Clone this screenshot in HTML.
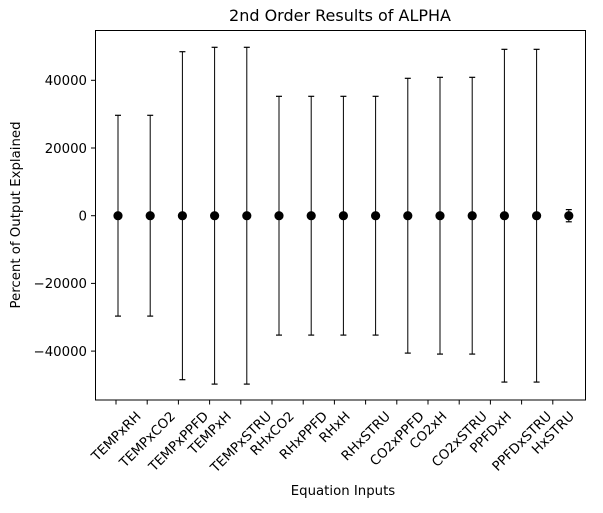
<!DOCTYPE html>
<html><head><meta charset="utf-8"><style>
body{margin:0;background:#fff;}
svg text{font-family:"DejaVu Sans","Liberation Sans",sans-serif;fill:#000;}
</style></head><body>
<svg id="chart" width="603" height="508">
<text x="340" y="21" font-size="16" text-anchor="middle">2nd Order Results of ALPHA</text>
<text x="343" y="495" font-size="13.3" text-anchor="middle">Equation Inputs</text>
<text transform="translate(20,215) rotate(-90)" font-size="13.3" text-anchor="middle">Percent of Output Explained</text>
<g id="plot"></g>
<rect x="95.5" y="30.5" width="490" height="369.5" fill="none" stroke="#000" stroke-width="1"/>
</svg>
<script>
const categories=["TEMPxRH","TEMPxCO2","TEMPxPPFD","TEMPxH","TEMPxSTRU","RHxCO2","RHxPPFD","RHxH","RHxSTRU","CO2xPPFD","CO2xH","CO2xSTRU","PPFDxH","PPFDxSTRU","HxSTRU"];
const means=[0,0,0,0,0,0,0,0,0,0,0,0,0,0,0];
const errors=[29660,29660,48450,49750,49750,35270,35270,35270,35270,40590,40880,40880,49150,49150,1800];
const yTicks=[-40000,-20000,0,20000,40000];
const NS="http://www.w3.org/2000/svg";
const g=document.getElementById('plot');
function xTick(i){return 116+31.2*i;}
function xPoint(i){return 118+32.2*i;}
function y(v){return 215.7-v*67.7/20000;}
function mk(t,a){const e=document.createElementNS(NS,t);for(const k in a)e.setAttribute(k,a[k]);g.appendChild(e);return e;}
yTicks.forEach(v=>{
  const l=mk('line',{x1:91,x2:95.5,y1:y(v),y2:y(v),stroke:'#000'});
  
  
  const t=mk('text',{x:87,y:y(v)+4.8,'font-size':13.3,'text-anchor':'end'});
  t.textContent=v<0?'\u2212'+Math.abs(v):String(v);
  
  
});
categories.forEach((c,i)=>{
  const tx=xTick(i);
  const l=mk('line',{x1:tx,x2:tx,y1:400,y2:404.5,stroke:'#000'});
  
  
  const t=mk('text',{'font-size':13.3,'text-anchor':'middle'});
  t.textContent=c;
  
  
  const L=t.getComputedTextLength();
  const half=(L*0.7071+13.3*0.7071)/2;
  const cy=409+half;
  t.setAttribute('transform',`translate(${tx},${cy}) rotate(-45)`);
  t.setAttribute('y',4.7);
  const px=xPoint(i);
  const top=y(means[i]+errors[i]),bot=y(means[i]-errors[i]);
  const eb=mk('line',{x1:px,x2:px,y1:top,y2:bot,stroke:'#000','stroke-width':1});
  
  
  [top,bot].forEach(yy=>{
    const cap=mk('line',{x1:px-3,x2:px+3,y1:yy,y2:yy,stroke:'#000','stroke-width':1.2});
    
    
  });
  const d=mk('circle',{cx:px,cy:y(means[i]),r:4.6,fill:'#000'});
  
  
});
</script>
</body></html>
